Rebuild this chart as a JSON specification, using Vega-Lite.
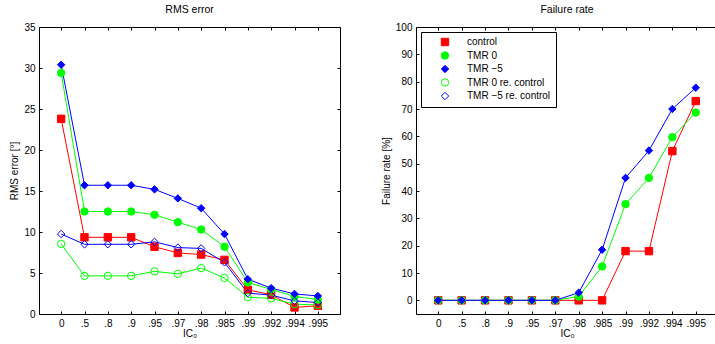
{
  "$schema": "https://vega.github.io/schema/vega-lite/v6.json",
  "padding": {"left": 9, "top": 4, "right": 0, "bottom": 0},
  "background": "white",
  "datasets": {
    "rms": [
      {"ic": "0", "series": "control", "v": 23.8},
      {"ic": ".5", "series": "control", "v": 9.35},
      {"ic": ".8", "series": "control", "v": 9.35},
      {"ic": ".9", "series": "control", "v": 9.35},
      {"ic": ".95", "series": "control", "v": 8.2},
      {"ic": ".97", "series": "control", "v": 7.45},
      {"ic": ".98", "series": "control", "v": 7.25},
      {"ic": ".985", "series": "control", "v": 6.6},
      {"ic": ".99", "series": "control", "v": 2.95},
      {"ic": ".992", "series": "control", "v": 2.35},
      {"ic": ".994", "series": "control", "v": 0.8},
      {"ic": ".995", "series": "control", "v": 1.0},
      {"ic": "0", "series": "TMR 0", "v": 29.4},
      {"ic": ".5", "series": "TMR 0", "v": 12.5},
      {"ic": ".8", "series": "TMR 0", "v": 12.5},
      {"ic": ".9", "series": "TMR 0", "v": 12.5},
      {"ic": ".95", "series": "TMR 0", "v": 12.1},
      {"ic": ".97", "series": "TMR 0", "v": 11.2},
      {"ic": ".98", "series": "TMR 0", "v": 10.3},
      {"ic": ".985", "series": "TMR 0", "v": 8.2},
      {"ic": ".99", "series": "TMR 0", "v": 3.85},
      {"ic": ".992", "series": "TMR 0", "v": 3.0},
      {"ic": ".994", "series": "TMR 0", "v": 2.15},
      {"ic": ".995", "series": "TMR 0", "v": 1.75},
      {"ic": "0", "series": "TMR −5", "v": 30.4},
      {"ic": ".5", "series": "TMR −5", "v": 15.7},
      {"ic": ".8", "series": "TMR −5", "v": 15.7},
      {"ic": ".9", "series": "TMR −5", "v": 15.7},
      {"ic": ".95", "series": "TMR −5", "v": 15.2},
      {"ic": ".97", "series": "TMR −5", "v": 14.1},
      {"ic": ".98", "series": "TMR −5", "v": 12.9},
      {"ic": ".985", "series": "TMR −5", "v": 9.75},
      {"ic": ".99", "series": "TMR −5", "v": 4.25},
      {"ic": ".992", "series": "TMR −5", "v": 3.15},
      {"ic": ".994", "series": "TMR −5", "v": 2.45},
      {"ic": ".995", "series": "TMR −5", "v": 2.2},
      {"ic": "0", "series": "TMR 0 re. control", "v": 8.55},
      {"ic": ".5", "series": "TMR 0 re. control", "v": 4.65},
      {"ic": ".8", "series": "TMR 0 re. control", "v": 4.65},
      {"ic": ".9", "series": "TMR 0 re. control", "v": 4.65},
      {"ic": ".95", "series": "TMR 0 re. control", "v": 5.2},
      {"ic": ".97", "series": "TMR 0 re. control", "v": 4.9},
      {"ic": ".98", "series": "TMR 0 re. control", "v": 5.6},
      {"ic": ".985", "series": "TMR 0 re. control", "v": 4.4},
      {"ic": ".99", "series": "TMR 0 re. control", "v": 2.05},
      {"ic": ".992", "series": "TMR 0 re. control", "v": 1.9},
      {"ic": ".994", "series": "TMR 0 re. control", "v": 1.2},
      {"ic": ".995", "series": "TMR 0 re. control", "v": 1.1},
      {"ic": "0", "series": "TMR −5 re. control", "v": 9.75},
      {"ic": ".5", "series": "TMR −5 re. control", "v": 8.5},
      {"ic": ".8", "series": "TMR −5 re. control", "v": 8.5},
      {"ic": ".9", "series": "TMR −5 re. control", "v": 8.5},
      {"ic": ".95", "series": "TMR −5 re. control", "v": 8.8},
      {"ic": ".97", "series": "TMR −5 re. control", "v": 8.1},
      {"ic": ".98", "series": "TMR −5 re. control", "v": 8.0},
      {"ic": ".985", "series": "TMR −5 re. control", "v": 6.3},
      {"ic": ".99", "series": "TMR −5 re. control", "v": 2.55},
      {"ic": ".992", "series": "TMR −5 re. control", "v": 2.3},
      {"ic": ".994", "series": "TMR −5 re. control", "v": 1.6},
      {"ic": ".995", "series": "TMR −5 re. control", "v": 1.4}
    ],
    "fail": [
      {"ic": "0", "series": "control", "v": 0},
      {"ic": ".5", "series": "control", "v": 0},
      {"ic": ".8", "series": "control", "v": 0},
      {"ic": ".9", "series": "control", "v": 0},
      {"ic": ".95", "series": "control", "v": 0},
      {"ic": ".97", "series": "control", "v": 0},
      {"ic": ".98", "series": "control", "v": 0},
      {"ic": ".985", "series": "control", "v": 0},
      {"ic": ".99", "series": "control", "v": 18},
      {"ic": ".992", "series": "control", "v": 18},
      {"ic": ".994", "series": "control", "v": 54.6},
      {"ic": ".995", "series": "control", "v": 72.9},
      {"ic": "0", "series": "TMR 0", "v": 0},
      {"ic": ".5", "series": "TMR 0", "v": 0},
      {"ic": ".8", "series": "TMR 0", "v": 0},
      {"ic": ".9", "series": "TMR 0", "v": 0},
      {"ic": ".95", "series": "TMR 0", "v": 0},
      {"ic": ".97", "series": "TMR 0", "v": 0},
      {"ic": ".98", "series": "TMR 0", "v": 1.4},
      {"ic": ".985", "series": "TMR 0", "v": 12.4},
      {"ic": ".99", "series": "TMR 0", "v": 35.2},
      {"ic": ".992", "series": "TMR 0", "v": 44.8},
      {"ic": ".994", "series": "TMR 0", "v": 59.7},
      {"ic": ".995", "series": "TMR 0", "v": 68.7},
      {"ic": "0", "series": "TMR −5", "v": 0},
      {"ic": ".5", "series": "TMR −5", "v": 0},
      {"ic": ".8", "series": "TMR −5", "v": 0},
      {"ic": ".9", "series": "TMR −5", "v": 0},
      {"ic": ".95", "series": "TMR −5", "v": 0},
      {"ic": ".97", "series": "TMR −5", "v": 0},
      {"ic": ".98", "series": "TMR −5", "v": 2.8},
      {"ic": ".985", "series": "TMR −5", "v": 18.5},
      {"ic": ".99", "series": "TMR −5", "v": 44.8},
      {"ic": ".992", "series": "TMR −5", "v": 54.8},
      {"ic": ".994", "series": "TMR −5", "v": 70},
      {"ic": ".995", "series": "TMR −5", "v": 77.8}
    ]
  },
  "hconcat": [
    {
      "title": "RMS error",
      "width": 301,
      "height": 287,
      "data": {"name": "rms"},
      "layer": [
        {
          "mark": {"type": "line", "strokeWidth": 1},
          "encoding": {
            "x": {"field": "ic", "type": "ordinal", "sort": null,
                  "scale": {"type": "point", "padding": 0.95, "domain": ["0", ".5", ".8", ".9", ".95", ".97", ".98", ".985", ".99", ".992", ".994", ".995"]},
                  "axis": {"title": "IC₀", "labelAngle": 0, "orient": "bottom", "titlePadding": 0}},
            "y": {"field": "v", "type": "quantitative",
                  "scale": {"domain": [0, 35], "nice": false},
                  "axis": {"title": "RMS error [°]", "values": [0, 5, 10, 15, 20, 25, 30, 35], "orient": "left"}},
            "color": {"field": "series", "type": "nominal", "legend": null,
                      "scale": {"domain": ["control", "TMR 0", "TMR −5", "TMR 0 re. control", "TMR −5 re. control"], "range": ["#ff0000", "#00ff00", "#0000ff", "#00ff00", "#0000ff"]}}
          }
        },
        {
          "mark": {"type": "point", "filled": false, "size": 55, "strokeWidth": 1, "opacity": 1},
          "encoding": {
            "x": {"field": "ic", "type": "ordinal", "sort": null,
                  "axis": {"title": null, "labels": false, "orient": "top"}},
            "y": {"field": "v", "type": "quantitative",
                  "axis": {"title": null, "labels": false, "orient": "right", "values": [0, 5, 10, 15, 20, 25, 30, 35]}},
            "color": {"field": "series", "type": "nominal", "legend": null},
            "fill": {"field": "series", "type": "nominal", "legend": null,
                     "scale": {"domain": ["control", "TMR 0", "TMR −5", "TMR 0 re. control", "TMR −5 re. control"], "range": ["#ff0000", "#00ff00", "#0000ff", "transparent", "transparent"]}},
            "shape": {"field": "series", "type": "nominal", "legend": null,
                      "scale": {"domain": ["control", "TMR 0", "TMR −5", "TMR 0 re. control", "TMR −5 re. control"], "range": ["square", "circle", "diamond", "circle", "diamond"]}}
          }
        }
      ],
      "resolve": {"axis": {"x": "independent", "y": "independent"}}
    },
    {
      "title": "Failure rate",
      "width": 302,
      "height": 287,
      "data": {"name": "fail"},
      "layer": [
        {
          "mark": {"type": "line", "strokeWidth": 1},
          "encoding": {
            "x": {"field": "ic", "type": "ordinal", "sort": null,
                  "scale": {"type": "point", "padding": 0.95, "domain": ["0", ".5", ".8", ".9", ".95", ".97", ".98", ".985", ".99", ".992", ".994", ".995"]},
                  "axis": {"title": "IC₀", "labelAngle": 0, "orient": "bottom", "titlePadding": 0}},
            "y": {"field": "v", "type": "quantitative",
                  "scale": {"domain": [-5, 100], "nice": false},
                  "axis": {"title": "Failure rate [%]", "values": [0, 10, 20, 30, 40, 50, 60, 70, 80, 90, 100], "orient": "left"}},
            "color": {"field": "series", "type": "nominal",
                      "scale": {"domain": ["control", "TMR 0", "TMR −5", "TMR 0 re. control", "TMR −5 re. control"], "range": ["#ff0000", "#00ff00", "#0000ff", "#00ff00", "#0000ff"]},
                      "legend": {
                        "title": null, "orient": "top-left", "offset": 5,
                        "strokeColor": "black", "fillColor": "white", "padding": 5,
                        "labelFontSize": 10, "labelColor": "black", "symbolSize": 55, "symbolStrokeWidth": 1,
                        "symbolOffset": 14, "labelOffset": 17, "rowPadding": 1.5
                      }}
          }
        },
        {
          "mark": {"type": "point", "filled": false, "size": 55, "strokeWidth": 1, "opacity": 1},
          "encoding": {
            "x": {"field": "ic", "type": "ordinal", "sort": null,
                  "axis": {"title": null, "labels": false, "orient": "top"}},
            "y": {"field": "v", "type": "quantitative",
                  "axis": {"title": null, "labels": false, "orient": "right", "values": [0, 10, 20, 30, 40, 50, 60, 70, 80, 90, 100]}},
            "color": {"field": "series", "type": "nominal"},
            "fill": {"field": "series", "type": "nominal", "legend": null,
                     "scale": {"domain": ["control", "TMR 0", "TMR −5", "TMR 0 re. control", "TMR −5 re. control"], "range": ["#ff0000", "#00ff00", "#0000ff", "transparent", "transparent"]}},
            "shape": {"field": "series", "type": "nominal", "legend": null,
                      "scale": {"domain": ["control", "TMR 0", "TMR −5", "TMR 0 re. control", "TMR −5 re. control"], "range": ["square", "circle", "diamond", "circle", "diamond"]}}
          }
        }
      ],
      "resolve": {"axis": {"x": "independent", "y": "independent"}}
    }
  ],
  "spacing": 39,
  "resolve": {
    "scale": {"color": "independent", "fill": "independent", "shape": "independent"},
    "legend": {"color": "independent", "fill": "independent", "shape": "independent"}
  },
  "config": {
    "font": "Liberation Sans",
    "view": {"stroke": "black", "strokeWidth": 1},
    "axis": {
      "domain": false, "grid": false, "tickColor": "black", "tickSize": -3, "tickWidth": 1,
      "labelColor": "black", "labelFontSize": 10, "labelPadding": 7,
      "titleColor": "black", "titleFontSize": 10, "titleFontWeight": "normal", "titlePadding": 4
    },
    "title": {"fontSize": 10.5, "fontWeight": "normal", "color": "black", "offset": 7}
  }
}
